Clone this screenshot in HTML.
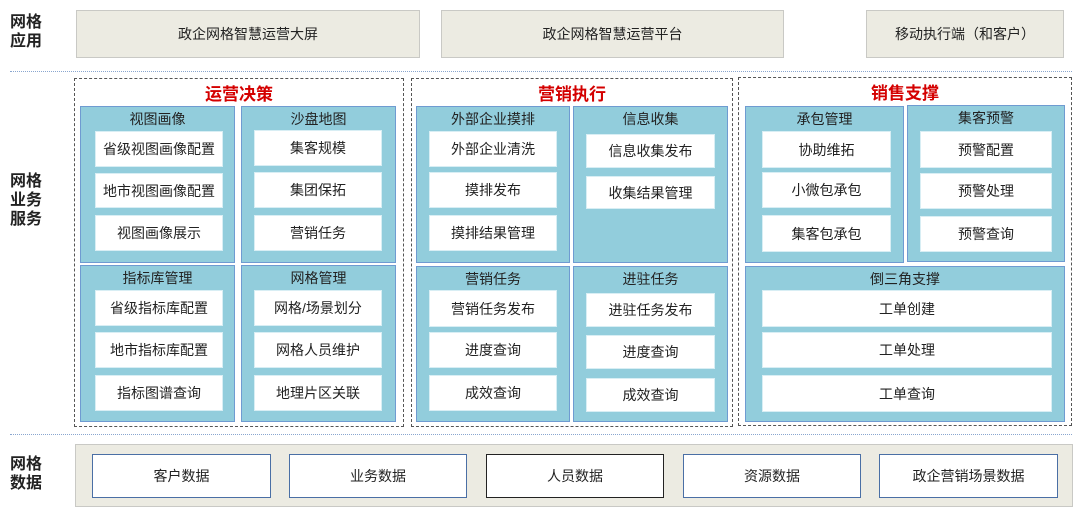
<!DOCTYPE html>
<html><head><meta charset="utf-8"><style>
body{margin:0;width:1080px;height:511px;background:#fff;position:relative;overflow:hidden;font-family:"Liberation Sans","Noto Sans CJK SC",sans-serif;}
div{position:absolute;box-sizing:border-box;}
.t{display:flex;align-items:center;justify-content:center;color:#222;font-size:14px;}
.app{background:#ecebe2;border:1.5px solid #c9c9c5;font-size:14px;}
.lab{font-weight:bold;font-size:16px;line-height:19px;color:#222;left:10px;}
.sep{left:10px;width:1062px;border-top:1px dotted #8aa6cf;height:0;}
.dash{border:1.3px dashed #555;}
.red{color:#d40000;font-weight:bold;font-size:17px;}
.p{background:#92cddc;border:1.5px solid #6f9bd1;}
.pt{font-size:14px;color:#222;text-align:center;width:100%;left:0;top:2px;}
.w{background:#fff;border:1px solid #d8eef4;}
.d{background:#fff;border:1.3px solid #4a6fa5;}
</style></head><body>
<div class="lab" style="top:13px">网格<br>应用</div>
<div class="lab" style="top:172px">网格<br>业务<br>服务</div>
<div class="lab" style="top:455px">网格<br>数据</div>

<div class="app t" style="left:76px;top:10px;width:344px;height:48px">政企网格智慧运营大屏</div>
<div class="app t" style="left:441px;top:10px;width:343px;height:48px">政企网格智慧运营平台</div>
<div class="app t" style="left:866px;top:10px;width:198px;height:48px">移动执行端（和客户）</div>

<div class="sep" style="top:71px"></div>
<div class="sep" style="top:434px"></div>

<div class="dash" style="left:74px;top:78px;width:330px;height:349px"></div>
<div class="dash" style="left:411px;top:78px;width:322px;height:349px"></div>
<div class="dash" style="left:738px;top:77px;width:334px;height:349px"></div>
<div class="t red" style="left:74px;top:81px;width:330px;height:22px">运营决策</div>
<div class="t red" style="left:411px;top:81px;width:322px;height:22px">营销执行</div>
<div class="t red" style="left:738px;top:80px;width:334px;height:22px">销售支撑</div>

<div class="p" style="left:80px;top:106px;width:155px;height:157px"><div class="pt">视图画像</div></div>
<div class="p" style="left:241px;top:106px;width:155px;height:157px"><div class="pt">沙盘地图</div></div>
<div class="p" style="left:80px;top:265px;width:155px;height:157px"><div class="pt">指标库管理</div></div>
<div class="p" style="left:241px;top:265px;width:155px;height:157px"><div class="pt">网格管理</div></div>
<div class="w t" style="left:95px;top:131px;width:128px;height:36px">省级视图画像配置</div>
<div class="w t" style="left:95px;top:173px;width:128px;height:35px">地市视图画像配置</div>
<div class="w t" style="left:95px;top:215px;width:128px;height:36px">视图画像展示</div>
<div class="w t" style="left:254px;top:130px;width:128px;height:36px">集客规模</div>
<div class="w t" style="left:254px;top:172px;width:128px;height:36px">集团保拓</div>
<div class="w t" style="left:254px;top:215px;width:128px;height:36px">营销任务</div>
<div class="w t" style="left:95px;top:290px;width:128px;height:36px">省级指标库配置</div>
<div class="w t" style="left:95px;top:332px;width:128px;height:36px">地市指标库配置</div>
<div class="w t" style="left:95px;top:375px;width:128px;height:36px">指标图谱查询</div>
<div class="w t" style="left:254px;top:290px;width:128px;height:36px">网格/场景划分</div>
<div class="w t" style="left:254px;top:332px;width:128px;height:36px">网格人员维护</div>
<div class="w t" style="left:254px;top:375px;width:128px;height:36px">地理片区关联</div>

<div class="p" style="left:416px;top:106px;width:154px;height:157px"><div class="pt">外部企业摸排</div></div>
<div class="p" style="left:573px;top:106px;width:155px;height:157px"><div class="pt">信息收集</div></div>
<div class="p" style="left:416px;top:266px;width:154px;height:156px"><div class="pt">营销任务</div></div>
<div class="p" style="left:573px;top:266px;width:155px;height:156px"><div class="pt">进驻任务</div></div>
<div class="w t" style="left:429px;top:131px;width:128px;height:36px">外部企业清洗</div>
<div class="w t" style="left:429px;top:172px;width:128px;height:36px">摸排发布</div>
<div class="w t" style="left:429px;top:215px;width:128px;height:36px">摸排结果管理</div>
<div class="w t" style="left:586px;top:134px;width:129px;height:34px">信息收集发布</div>
<div class="w t" style="left:586px;top:176px;width:129px;height:33px">收集结果管理</div>
<div class="w t" style="left:429px;top:290px;width:128px;height:37px">营销任务发布</div>
<div class="w t" style="left:429px;top:332px;width:128px;height:36px">进度查询</div>
<div class="w t" style="left:429px;top:375px;width:128px;height:36px">成效查询</div>
<div class="w t" style="left:586px;top:293px;width:129px;height:34px">进驻任务发布</div>
<div class="w t" style="left:586px;top:335px;width:129px;height:34px">进度查询</div>
<div class="w t" style="left:586px;top:378px;width:129px;height:34px">成效查询</div>

<div class="p" style="left:745px;top:106px;width:159px;height:157px"><div class="pt">承包管理</div></div>
<div class="p" style="left:907px;top:105px;width:158px;height:157px"><div class="pt">集客预警</div></div>
<div class="p" style="left:745px;top:266px;width:320px;height:156px"><div class="pt">倒三角支撑</div></div>
<div class="w t" style="left:762px;top:131px;width:129px;height:37px">协助维拓</div>
<div class="w t" style="left:762px;top:172px;width:129px;height:36px">小微包承包</div>
<div class="w t" style="left:762px;top:215px;width:129px;height:37px">集客包承包</div>
<div class="w t" style="left:920px;top:131px;width:132px;height:37px">预警配置</div>
<div class="w t" style="left:920px;top:173px;width:132px;height:36px">预警处理</div>
<div class="w t" style="left:920px;top:216px;width:132px;height:36px">预警查询</div>
<div class="w t" style="left:762px;top:290px;width:290px;height:37px">工单创建</div>
<div class="w t" style="left:762px;top:332px;width:290px;height:36px">工单处理</div>
<div class="w t" style="left:762px;top:375px;width:290px;height:37px">工单查询</div>

<div class="app" style="left:75px;top:444px;width:998px;height:63px"></div>
<div class="d t" style="left:92px;top:454px;width:179px;height:44px">客户数据</div>
<div class="d t" style="left:289px;top:454px;width:178px;height:44px">业务数据</div>
<div class="d t" style="left:486px;top:454px;width:178px;height:44px;border-color:#222">人员数据</div>
<div class="d t" style="left:683px;top:454px;width:178px;height:44px">资源数据</div>
<div class="d t" style="left:879px;top:454px;width:179px;height:44px">政企营销场景数据</div>
</body></html>
